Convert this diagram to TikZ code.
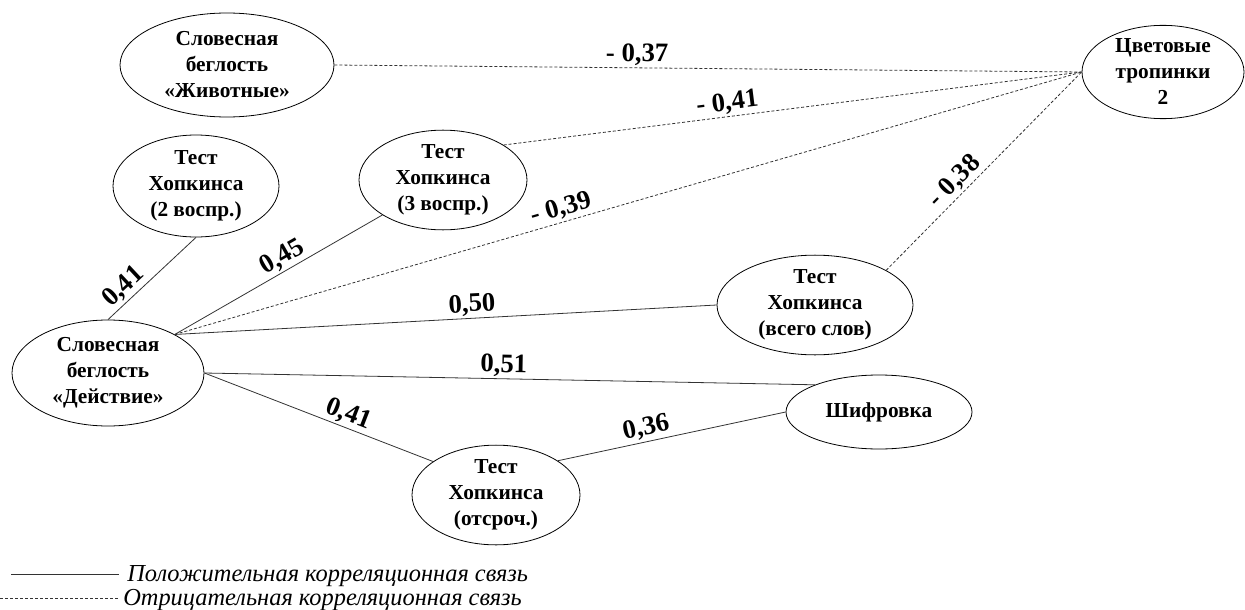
\documentclass[tikz,border=0pt]{standalone}
\usepackage{fontspec}
\setmainfont{Liberation Serif}
\usetikzlibrary{shapes.geometric,positioning}

\begin{document}
\begin{tikzpicture}[x=0.75pt,y=-0.75pt,
    oval/.style 2 args={ellipse, draw, line width=0.6pt, minimum width=#1, minimum height=#2, inner sep=0pt, align=center, font=\fontsize{16}{19.5}\selectfont\bfseries},
    link/.style={draw=black!80, line width=0.6pt},
    neglink/.style={link, dash pattern=on 2.25pt off 1.5pt},
    lbl/.style={sloped, above, inner sep=1.5pt, font=\fontsize{20}{22}\selectfont\bfseries}]
  \useasboundingbox (0,0) rectangle (1245,610);
  % variables
  \node (anim) [oval={160.5pt}{78pt}] at (227,65) {Словесная\\беглость\\«Животные»};
  \node (hop2) [oval={124.5pt}{76.5pt}] at (196,186) {Тест\\Хопкинса\\(2 воспр.)};
  \node (hop3) [oval={126pt}{72pt}] at (443,180) {Тест\\Хопкинса\\(3 воспр.)};
  \node (act) [oval={144pt}{79.5pt}] at (108,373) {Словесная\\беглость\\«Действие»};
  \node (delay) [oval={126pt}{70.5pt}] at (496,495) {Тест\\Хопкинса\\(отсроч.)};
  \node (total) [oval={147pt}{70.5pt}] at (815,305) {Тест\\Хопкинса\\(всего слов)};
  \node (cipher) [oval={139.5pt}{55.5pt}] at (879,412) {Шифровка};
  \node (paths) [oval={121.5pt}{69pt}] at (1163,72) {Цветовые\\тропинки\\2};
  % positive links
  \draw[link] (act.north) -- node[lbl, pos=.28] {0,41} (hop2.south);
  \draw[link] (act.30) -- node[lbl, pos=.55] {0,45} (hop3.210);
  \draw[link] (act.30) -- node[lbl, pos=.55] {0,50} (total.west);
  \draw[link] (act.east) -- node[lbl, pos=.49] {0,51} (cipher.157);
  \draw[link] (act.east) -- node[lbl, pos=.61] {0,41} (delay.152);
  \draw[link] (delay.29) -- node[lbl, pos=.40] {0,36} (cipher.west);
  % negative links
  \draw[neglink] (anim.east) -- node[lbl, pos=.405] {- 0,37} (paths.west);
  \draw[neglink] (hop3.30) -- node[lbl, pos=.39] {- 0,41} (paths.west);
  \draw[neglink] (act.30) -- node[lbl, pos=.43] {- 0,39} (paths.west);
  \draw[neglink] (total.26) -- node[lbl, pos=.40] {- 0,38} (paths.west);
  % legend
  \node (legpos) [anchor=west, inner sep=0pt, font=\fontsize{18.3}{20}\selectfont\itshape] at (127,576) {Положительная корреляционная связь};
  \node (legneg) [anchor=west, inner sep=0pt, font=\fontsize{18.3}{20}\selectfont\itshape] at (123,600) {Отрицательная корреляционная связь};
  \coordinate (posend) at (11,574);
  \coordinate (negend) at (0,598);
  \draw[link] (posend) -- ([xshift=-6pt]legpos.west |- posend);
  \draw[neglink] (negend) -- ([xshift=-3pt]legneg.west |- negend);
\end{tikzpicture}
\end{document}
